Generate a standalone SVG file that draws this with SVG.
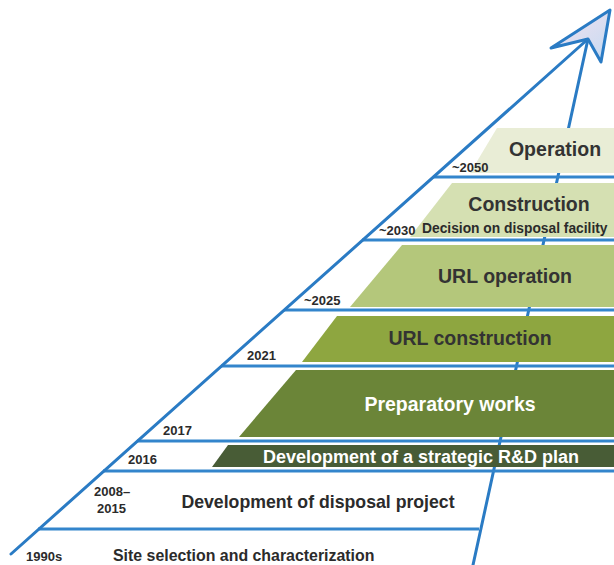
<svg xmlns="http://www.w3.org/2000/svg" width="614" height="565" viewBox="0 0 614 565">
<style>
.ln{stroke:#2a7bc4;stroke-width:3;fill:none;stroke-linecap:round}
.hl{stroke:#3385cc;stroke-width:3;fill:none}
.yr{font-family:"Liberation Sans",Arial,sans-serif;font-weight:bold;font-size:13px;fill:#2b2b2b}
.big{font-family:"Liberation Sans",Arial,sans-serif;font-weight:bold;font-size:19.5px;fill:#333333;text-anchor:middle}
.wt{fill:#ffffff}
.mid{font-family:"Liberation Sans",Arial,sans-serif;font-weight:bold;fill:#2b2b2b}
</style>
<defs>
<linearGradient id="ag" x1="0" y1="0" x2="1" y2="1">
<stop offset="0" stop-color="#f6e2ee"/>
<stop offset="1" stop-color="#c4daf2"/>
</linearGradient>
</defs>
<rect width="614" height="565" fill="#ffffff"/>
<g id="connectors">
<line class="ln" x1="473" y1="565" x2="588" y2="39"/>
</g>
<g id="operation">
<polygon points="497,128 614,128 614,173 470,173" fill="#e9edd6"/>
<text class="big" x="555" y="156">Operation</text>
<text class="yr" x="452" y="172">~2050</text>
</g>
<g id="construction">
<polygon points="452,183 614,183 614,237 410,237" fill="#d5e0b2"/>
<text class="big" x="529" y="211">Construction</text>
<text class="mid" x="422" y="233" font-size="13.8">Decision on disposal facility</text>
<text class="yr" x="379" y="235">~2030</text>
</g>
<g id="url-operation">
<polygon points="402,245 614,245 614,307 350,307" fill="#b4c77b"/>
<text class="big" x="505" y="283">URL operation</text>
<text class="yr" x="304" y="305">~2025</text>
</g>
<g id="url-construction">
<polygon points="337,316 614,316 614,362 302,362" fill="#8ea640"/>
<text class="big" x="470" y="345">URL construction</text>
<text class="yr" x="247" y="360">2021</text>
</g>
<g id="preparatory-works">
<polygon points="296,370 614,370 614,437 239,437" fill="#6b8538"/>
<text class="big wt" x="450" y="411">Preparatory works</text>
<text class="yr" x="163" y="435">2017</text>
</g>
<g id="rd-plan">
<polygon points="228,445 614,445 614,467 212,467" fill="#485c36"/>
<text class="big wt" x="421" y="462.5" style="font-size:18px">Development of a strategic R&amp;D plan</text>
<text class="yr" x="128" y="464">2016</text>
</g>
<g id="disposal-project">
<text class="mid" x="318" y="508" font-size="17.7" text-anchor="middle">Development of disposal project</text>
<text class="yr" x="94" y="496">2008–</text>
<text class="yr" x="97" y="513">2015</text>
</g>
<g id="site-selection">
<text class="mid" x="113" y="561" font-size="15.9">Site selection and characterization</text>
<text class="yr" x="26" y="561">1990s</text>
</g>
<g id="connectors-lines">
<line class="hl" x1="433" y1="177" x2="614" y2="177"/>
<line class="hl" x1="362" y1="240" x2="614" y2="240"/>
<line class="hl" x1="284" y1="310" x2="614" y2="310"/>
<line class="hl" x1="221" y1="366" x2="614" y2="366"/>
<line class="hl" x1="137" y1="441" x2="614" y2="441"/>
<line class="hl" x1="103" y1="471" x2="614" y2="471"/>
<line class="hl" x1="38" y1="529" x2="479" y2="529"/>
<line class="ln" x1="11" y1="554" x2="588" y2="39"/>
<polygon points="610,10 601,62 588,39 551,48" fill="url(#ag)" stroke="#2a7bc4" stroke-width="3" stroke-linejoin="round"/>
</g>
</svg>
